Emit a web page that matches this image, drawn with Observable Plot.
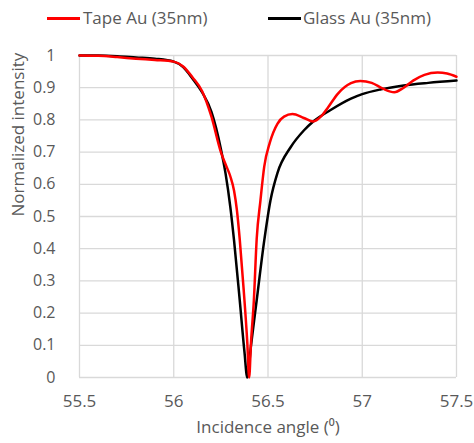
<!DOCTYPE html>
<html>
<head>
<meta charset="utf-8">
<script src="https://cdn.jsdelivr.net/npm/d3@7"></script>
<script src="https://cdn.jsdelivr.net/npm/@observablehq/plot@0.6"></script>
<style>
  html, body { margin: 0; padding: 0; background: #fff; }
  #wrap { width: 474px; height: 443px; position: relative; font-family: "Open Sans", sans-serif; color: #595959; }
  #legend { position: relative; width: 474px; height: 35px; }
  .sw { position: absolute; height: 3px; top: 17px; width: 33px; }
  .lt { position: absolute; font-size: 17px; line-height: 17px; top: 9px; white-space: nowrap; }
  svg { display: block; }
</style>
</head>
<body>
<div id="wrap">
  <div id="legend"></div>
  <div id="chart"></div>
</div>
<script>
// Series names and colours
const seriesNames = ["Tape Au (35nm)", "Glass Au (35nm)"];
const seriesColors = ["#ff0000", "#000000"];

// Tape Au (red) — incidence angle / normalized intensity
const tapeX = [55.5, 55.6, 55.7, 55.8, 55.9, 56.0, 56.05, 56.1, 56.15, 56.2, 56.25, 56.28, 56.3, 56.32, 56.335, 56.35, 56.37, 56.39, 56.40, 56.41, 56.425, 56.44, 56.46, 56.48, 56.51, 56.55, 56.585, 56.63, 56.69, 56.74, 56.78, 56.82, 56.87, 56.94, 56.99, 57.05, 57.11, 57.17, 57.22, 57.27, 57.33, 57.4, 57.45, 57.5];
const tapeY = [1.0, 0.999, 0.995, 0.99, 0.986, 0.981, 0.966, 0.932, 0.89, 0.81, 0.70, 0.655, 0.625, 0.58, 0.52, 0.43, 0.28, 0.11, 0.0, 0.11, 0.24, 0.43, 0.55, 0.655, 0.73, 0.788, 0.81, 0.818, 0.806, 0.795, 0.81, 0.84, 0.881, 0.914, 0.921, 0.915, 0.897, 0.886, 0.9, 0.922, 0.94, 0.947, 0.944, 0.934];

// Glass Au (black)
const glassX = [55.5, 55.6, 55.7, 55.8, 55.9, 56.0, 56.05, 56.1, 56.15, 56.2, 56.25, 56.275, 56.3, 56.32, 56.35, 56.375, 56.39, 56.41, 56.44, 56.48, 56.513, 56.55, 56.62, 56.69, 56.74, 56.83, 56.94, 57.0, 57.1, 57.22, 57.35, 57.5];
const glassY = [1.0, 1.0, 0.998, 0.994, 0.99, 0.981, 0.964, 0.928, 0.886, 0.825, 0.71, 0.633, 0.53, 0.425, 0.24, 0.08, 0.0, 0.1, 0.24, 0.425, 0.55, 0.635, 0.715, 0.767, 0.795, 0.83, 0.866, 0.88, 0.895, 0.907, 0.915, 0.922];

// Tick labels
const xTicks = [55.5, 56, 56.5, 57, 57.5];
const yTicks = [0, 0.1, 0.2, 0.3, 0.4, 0.5, 0.6, 0.7, 0.8, 0.9, 1];
const xTitle = "Incidence angle (\u2070)";
const yTitle = "Normalized intensity";

const tape = tapeX.map((x, i) => ({x, y: tapeY[i]}));
const glass = glassX.map((x, i) => ({x, y: glassY[i]}));

// Legend
const legend = document.getElementById("legend");
const legendPos = [{sw: 47, tx: 83}, {sw: 268, tx: 303}];
seriesNames.forEach((name, i) => {
  const s = document.createElement("div");
  s.className = "sw";
  s.style.left = legendPos[i].sw + "px";
  s.style.background = seriesColors[i];
  legend.appendChild(s);
  const t = document.createElement("div");
  t.className = "lt";
  t.style.left = legendPos[i].tx + "px";
  t.textContent = name;
  legend.appendChild(t);
});

const fmt = d => String(+(+d).toFixed(1));

const chart = Plot.plot({
  width: 474,
  height: 408,
  marginTop: 20,
  marginBottom: 66,
  marginLeft: 79,
  marginRight: 18,
  style: {fontFamily: "Open Sans, sans-serif", fontSize: "16px", color: "#595959", background: "#fff"},
  x: {domain: [55.5, 57.5]},
  y: {domain: [0, 1]},
  marks: [
    Plot.gridY(yTicks, {stroke: "#d9d9d9", strokeOpacity: 1, strokeWidth: 1.3}),
    Plot.gridX(xTicks, {stroke: "#d9d9d9", strokeOpacity: 1, strokeWidth: 1.3}),
    Plot.axisX(xTicks, {tickSize: 0, tickPadding: 17, fontSize: 17, tickFormat: fmt, label: null}),
    Plot.axisY(yTicks, {tickSize: 0, tickPadding: 24, fontSize: 16, tickFormat: fmt, label: null}),
    Plot.text([xTitle], {frameAnchor: "bottom", dy: 55, fontSize: 17, fill: "#595959"}),
    Plot.text([yTitle], {frameAnchor: "left", dx: -61, rotate: -90, fontSize: 17, fill: "#595959"}),
    Plot.line(glass, {x: "x", y: "y", stroke: seriesColors[1], strokeWidth: 2.5, curve: "monotone-x"}),
    Plot.line(tape, {x: "x", y: "y", stroke: seriesColors[0], strokeWidth: 2.5, curve: "monotone-x"})
  ]
});
document.getElementById("chart").appendChild(chart);
</script>
</body>
</html>
